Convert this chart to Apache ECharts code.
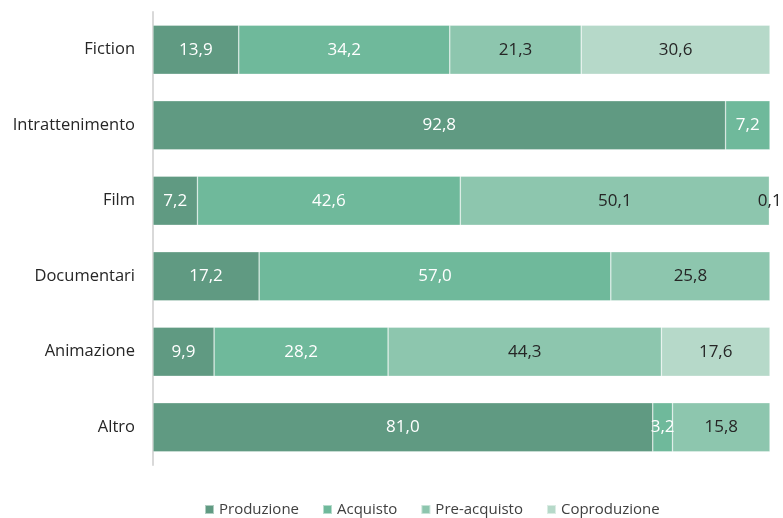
<!DOCTYPE html>
<html>
<head>
<meta charset="utf-8">
<script src="https://cdn.jsdelivr.net/npm/echarts@6/dist/echarts.min.js"></script>
<style>
  html, body { margin: 0; padding: 0; background: #fff; }
  #chart { width: 783px; height: 518px; }
</style>
</head>
<body>
<div id="chart"></div>
<script>
// Categories listed top to bottom
const categories = ['Fiction', 'Intrattenimento', 'Film', 'Documentari', 'Animazione', 'Altro'];
const seriesNames = ['Produzione', 'Acquisto', 'Pre-acquisto', 'Coproduzione'];
const produzione   = [13.9, 92.8, 7.2, 17.2, 9.9, 81.0];
const acquisto     = [34.2, 7.2, 42.6, 57.0, 28.2, 3.2];
const preAcquisto  = [21.3, null, 50.1, 25.8, 44.3, 15.8];
const coproduzione = [30.6, null, 0.1, null, 17.6, null];

const values = [produzione, acquisto, preAcquisto, coproduzione];
const colors = ['#609a82', '#6fb99b', '#8dc6ae', '#b6d9c9'];
const labelColors = ['#ffffff', '#ffffff', '#262626', '#262626'];
const FONT = '"Open Sans", "Noto Sans", sans-serif';

const chart = echarts.init(document.getElementById('chart'), null, { renderer: 'canvas' });

chart.setOption({
  animation: false,
  color: colors,
  grid: { left: 153, right: 13, top: 12, bottom: 53, containLabel: false },
  legend: {
    data: seriesNames,
    top: 497,
    left: 199,
    itemWidth: 9,
    itemHeight: 9,
    itemGap: 23,
    icon: 'rect',
    textStyle: { fontFamily: FONT, fontSize: 15, color: '#404040' }
  },
  xAxis: {
    type: 'value',
    min: 0,
    max: 100,
    show: false
  },
  yAxis: {
    type: 'category',
    inverse: true,
    data: categories,
    axisLine: { show: true, lineStyle: { color: '#d9d9d9', width: 2 } },
    axisTick: { show: false },
    axisLabel: { fontFamily: FONT, fontSize: 16.5, color: '#262626', margin: 18 },
    splitLine: { show: false }
  },
  series: seriesNames.map((name, i) => ({
    name: name,
    type: 'bar',
    stack: 'totale',
    barCategoryGap: '35%',
    data: values[i],
    itemStyle: { color: colors[i], borderColor: 'rgba(255,255,255,0.5)', borderWidth: 0.6 },
    label: {
      show: true,
      position: 'inside',
      fontFamily: FONT,
      fontSize: 17,
      color: labelColors[i],
      formatter: p => (p.value == null ? '' : p.value.toFixed(1).replace('.', ','))
    }
  }))
});
</script>
</body>
</html>
